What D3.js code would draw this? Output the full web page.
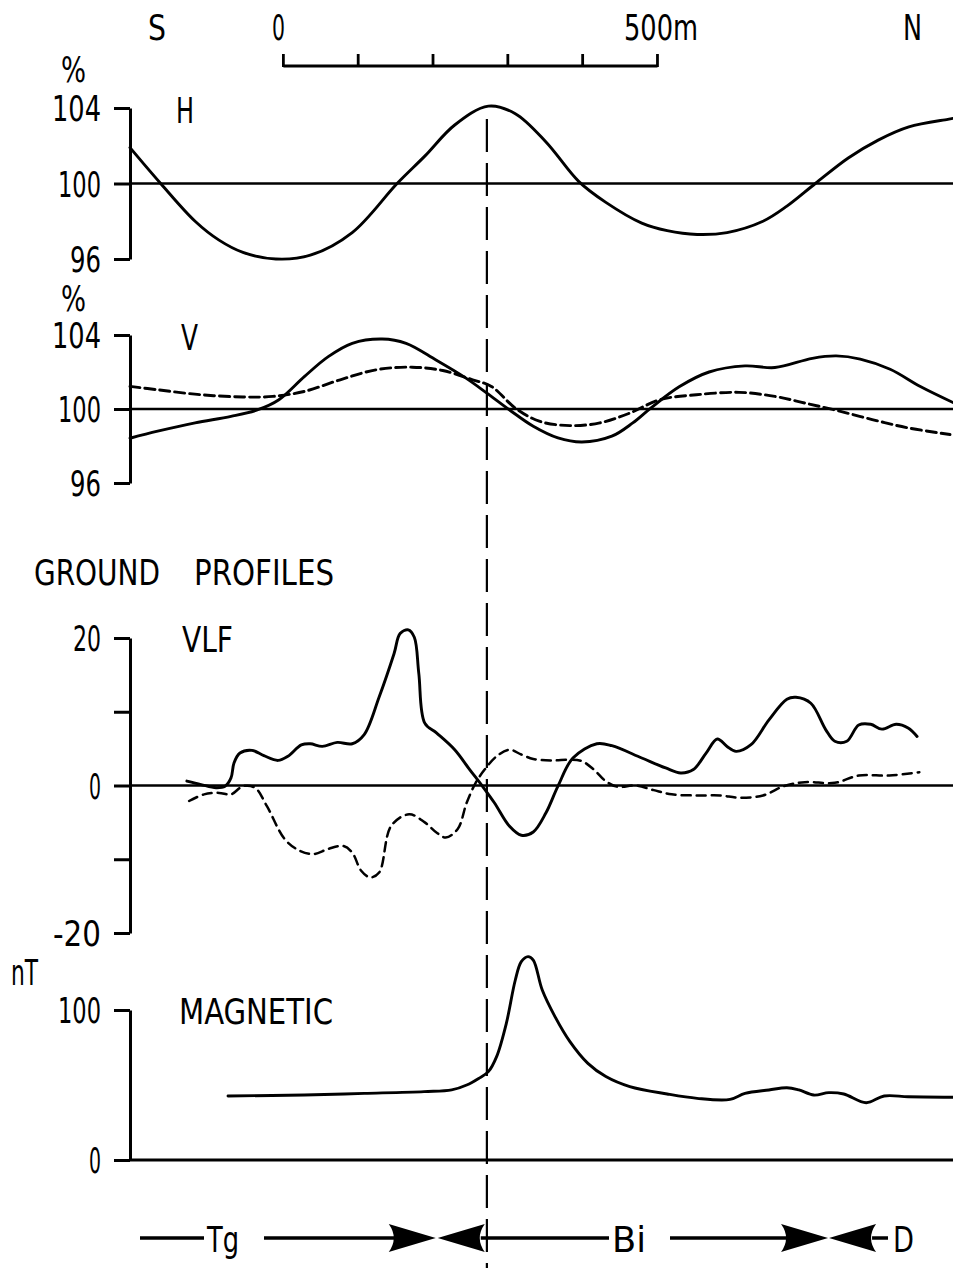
<!DOCTYPE html>
<html><head><meta charset="utf-8">
<script src="https://cdn.jsdelivr.net/npm/d3@7"></script>
<style>
body{margin:0;background:#fff}
text{font-family:"DejaVu Sans Condensed","Liberation Sans Narrow","Liberation Sans",sans-serif;fill:#000}
</style>
</head><body><svg id="c" width="953" height="1268"></svg>
<script>
// distance along profile (m), value
const hDistance = [-205,-164,-118,-86,-54,-10,36,92,152,189,229,274,310,351,395,431,479,513,553,593,641,673,711,755,795,836,888,895];
const hValue    = [101.9,100,98.0,97.0,96.35,96.0,96.2,97.4,100,101.45,103.1,104.1,103.7,102.2,100.1,99.0,97.9,97.5,97.3,97.4,98.0,98.8,100,101.35,102.3,103.0,103.4,103.45];

const vSolidDistance = [-205,-168,-118,-70,-34,-6,28,60,92,132,164,204,244,272,302,334,367,399,439,467,491,529,569,617,657,707,739,771,811,852,895];
const vSolidValue    = [98.42,98.8,99.25,99.6,99.96,100.5,101.75,102.83,103.55,103.78,103.55,102.65,101.67,100.86,99.96,99.07,98.44,98.22,98.53,99.25,100.05,101.2,102.0,102.33,102.24,102.74,102.87,102.7,102.15,101.2,100.35];

const vDashDistance = [-205,-168,-110,-54,-14,28,76,124,172,213,253,278,310,342,383,423,463,503,552,609,657,697,739,787,835,891];
const vDashValue    = [101.22,101.04,100.77,100.65,100.68,100.95,101.58,102.12,102.26,102.08,101.58,101.22,100.05,99.34,99.1,99.25,99.78,100.5,100.77,100.9,100.68,100.32,99.93,99.43,98.98,98.62];

const vlfSolidDistance = [-129,-110,-90,-78,-70,-66,-58,-42,-26,-7,6,24,36,52,72,92,108,128,148,156,167,175,181,189,205,229,249,266,282,302,318,334,351,367,387,419,439,479,511,531,548,565,580,593,605,625,649,673,685,705,725,737,753,769,785,800,819,835,847];
const vlfSolidValue    = [0.6,0.13,-0.3,-0.1,1.03,3.06,4.4,4.76,4.04,3.4,3.96,5.5,5.66,5.3,5.84,5.66,6.9,12.0,17.9,20.6,21.1,20.1,15.2,8.45,7.1,4.85,2.16,-0.09,-2.34,-5.5,-6.74,-6.3,-3.7,-0.09,3.73,5.66,5.4,3.73,2.38,1.7,2.16,4.4,6.3,5.3,4.63,5.53,8.9,11.7,11.96,11.15,7.55,6.0,6.0,8.2,8.3,7.64,8.3,7.8,6.65];

const vlfDashDistance = [-126,-106,-86,-70,-54,-38,-22,2,22,40,60,80,92,104,116,128,144,168,189,205,217,233,245,257,269,285,302,318,334,359,383,399,415,431,447,471,495,519,552,584,609,641,669,697,737,769,810,850];
const vlfDashValue    = [-2.1,-1.2,-1.0,-1.2,-0.09,-0.3,-2.8,-7.3,-8.85,-9.3,-8.6,-8.2,-9.1,-11.55,-12.45,-11.8,-5.5,-3.9,-5.0,-6.4,-7.05,-5.9,-2.34,0.36,2.16,3.96,4.85,4.2,3.6,3.4,3.5,3.3,2.16,0.58,-0.18,0,-0.63,-1.2,-1.35,-1.35,-1.66,-1.35,-0.09,0.45,0.36,1.35,1.35,1.8];

const magDistance = [-74,28,108,188,225,245,261,274,285,298,310,318,327,334,346,363,383,407,431,463,513,553,597,617,649,673,689,709,729,749,779,803,835,883,895];
const magValue    = [42.7,43.3,44.4,45.6,46.7,50,54.4,58.9,68.9,91.1,120,132.2,135.6,133.3,113.3,95.6,78.9,64.4,55.6,48.9,44,41.1,40.4,44.4,46.7,48.2,46.7,43.3,44.9,44,38.2,42.7,42.2,41.8,41.8];

const scaleTicks = [0,100,200,300,400,500];
const hvTicks = [96,100,104];
const vlfTicks = [-20,-10,0,10,20];
const vlfLabels = {"-20":"-20","0":"0","20":"20"};
const magTicks = [0,100];
const anomalyAt = 272;           // dashed vertical marker (m)
const geoBoundaries = [205,728]; // Tg|Bi, Bi|D (m)

const svg = d3.select("#c");
svg.append("rect").attr("width",953).attr("height",1268).attr("fill","#fff");

const x = d3.scaleLinear().domain([-205,895]).range([130,953]);
const yH = d3.scaleLinear().domain([96,104]).range([259,108]);
const yV = d3.scaleLinear().domain([96,104]).range([483,335]);
const yVLF = d3.scaleLinear().domain([-20,20]).range([933,638]);
const yMag = d3.scaleLinear().domain([0,100]).range([1160,1010]);

const zip = (a,b)=>a.map((d,i)=>[d,b[i]]);
const curve = d3.curveCatmullRom.alpha(0.5);
const FONT = '"DejaVu Sans Condensed","Liberation Sans Narrow","Liberation Sans",sans-serif';
const labelWidth = {"104":49,"100":43,"96":31,"20":28,"0":12,"-20":48};

function axis(yScale, ticks, fmt){
  const g = svg.append("g").attr("transform","translate(130,0)")
    .call(d3.axisLeft(yScale).tickValues(ticks).tickSize(16).tickSizeOuter(0).tickPadding(13).tickFormat(fmt));
  g.select(".domain").attr("stroke","#000").attr("stroke-width",3);
  g.selectAll(".tick line").attr("stroke","#000").attr("stroke-width",3);
  g.selectAll(".tick text").attr("font-size",36).attr("fill","#000").attr("dy","0.36em")
    .style("font-family",FONT)
    .each(function(){ const s=this.textContent; if(labelWidth[s]) d3.select(this).attr("textLength",labelWidth[s]).attr("lengthAdjust","spacingAndGlyphs"); });
  return g;
}
axis(yH, hvTicks, d=>String(d));
axis(yV, hvTicks, d=>String(d));
axis(yVLF, vlfTicks, d=>vlfLabels[String(d)]||"");
axis(yMag, magTicks, d=>String(d));

// reference lines
function hline(y, w){ svg.append("line").attr("x1",130).attr("x2",953).attr("y1",y).attr("y2",y).attr("stroke","#000").attr("stroke-width",w); }
hline(yH(100),2.4); hline(yV(100),2.4); hline(yVLF(0),2.4); hline(yMag(0),3);

// curves
function draw(xs, vs, yScale, dash, w){
  const line = d3.line().x(d=>x(d[0])).y(d=>yScale(d[1])).curve(curve);
  svg.append("path").attr("d",line(zip(xs,vs))).attr("fill","none").attr("stroke","#000")
    .attr("stroke-width",w).attr("stroke-linejoin","round").attr("stroke-linecap","round")
    .attr("stroke-dasharray",dash||null);
}
draw(hDistance,hValue,yH,null,2.9);
draw(vDashDistance,vDashValue,yV,"10,5",2.9);
draw(vSolidDistance,vSolidValue,yV,null,2.9);
draw(vlfDashDistance,vlfDashValue,yVLF,"9,6",2.5);
draw(vlfSolidDistance,vlfSolidValue,yVLF,null,2.9);
draw(magDistance,magValue,yMag,null,2.9);

// vertical dashed marker
svg.append("line").attr("x1",x(anomalyAt)).attr("x2",x(anomalyAt)).attr("y1",119).attr("y2",1268)
  .attr("stroke","#000").attr("stroke-width",2.2).attr("stroke-dasharray","33,11");

// scale bar
svg.append("line").attr("x1",x(0)).attr("x2",x(500)).attr("y1",66).attr("y2",66).attr("stroke","#000").attr("stroke-width",3);
svg.selectAll(".sb").data(scaleTicks).enter().append("line")
  .attr("x1",d=>x(d)).attr("x2",d=>x(d)).attr("y1",54).attr("y2",67).attr("stroke","#000").attr("stroke-width",2.8);

function txt(s,xx,yy,size,w,anchor){
  const t = svg.append("text").attr("x",xx).attr("y",yy).attr("font-size",size).attr("text-anchor",anchor||"start").text(s);
  if(w) t.attr("textLength",w).attr("lengthAdjust","spacingAndGlyphs");
  return t;
}
txt("S",148,40,36,18);
txt("0",272,40,36,13);
txt("500m",624,40,36,74);
txt("N",903,40,36,19);
txt("%",61,82,36,25);
txt("%",61,311,36,25);
txt("H",176,123,36,18);
txt("V",181,350,36,17);
txt("GROUND",34,585,36,126);
txt("PROFILES",194,585,36,140);
txt("VLF",182,652,36,51);
txt("nT",11,985,36,27);
txt("MAGNETIC",179,1024,36,154);

// geology arrows
const ay = 1238;
function seg(x1,x2){ svg.append("line").attr("x1",x1).attr("x2",x2).attr("y1",ay).attr("y2",ay).attr("stroke","#000").attr("stroke-width",3.5); }
function arrow(tip, dir){ // dir=+1 right-pointing, -1 left-pointing
  const L=47, H=14, b=tip-dir*L;
  const p = d3.path();
  p.moveTo(tip,ay);
  p.quadraticCurveTo(tip-dir*L*0.55, ay-H*0.55, b, ay-H);
  p.quadraticCurveTo(b+dir*10, ay, b, ay+H);
  p.quadraticCurveTo(tip-dir*L*0.55, ay+H*0.55, tip, ay);
  p.closePath();
  svg.append("path").attr("d",p.toString()).attr("fill","#000");
}
const b1 = x(geoBoundaries[0]), b2 = x(geoBoundaries[1]);
seg(140,204); txt("Tg",207,1252,36,32);
seg(264,b1-40); arrow(b1-1,1); arrow(b1+1,-1);
seg(b1+44,609); txt("Bi",612,1252,36,34);
seg(670,b2-40); arrow(b2,1); arrow(b2+1,-1);
seg(b2+44,888); txt("D",893,1252,36,21);
</script></body></html>
